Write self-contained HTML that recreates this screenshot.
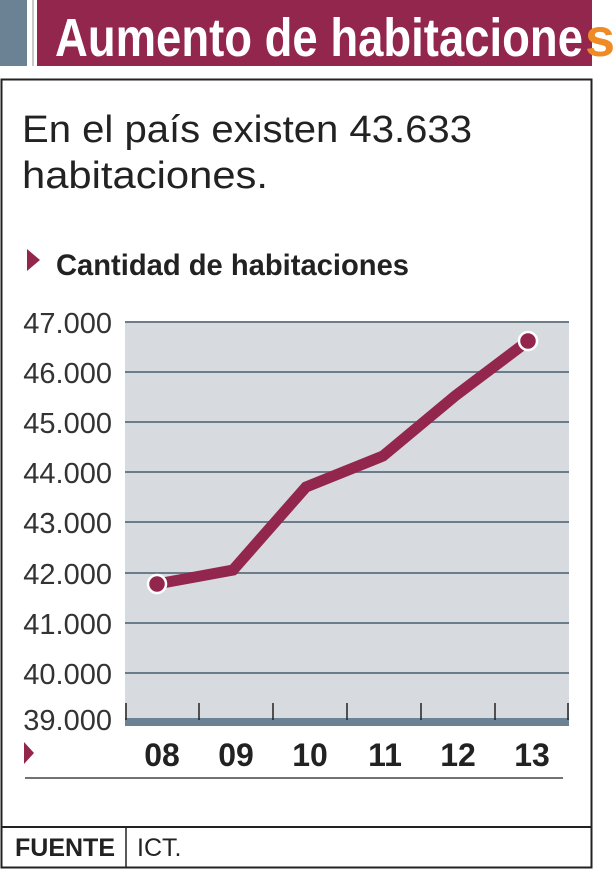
<!DOCTYPE html>
<html><head><meta charset="utf-8"><style>
html,body{margin:0;padding:0;background:#fff;width:613px;height:871px;overflow:hidden}
svg{display:block}
</style></head><body>
<svg width="613" height="871" viewBox="0 0 613 871" xmlns="http://www.w3.org/2000/svg">
<rect x="0" y="0" width="613" height="871" fill="#fff"/>
<rect x="0" y="0" width="27" height="66" fill="#6b8294"/>
<rect x="32" y="0" width="2" height="66" fill="#c8c8c8"/>
<rect x="37" y="0" width="555" height="66" fill="#93264c"/>
<text x="55" y="56" font-family="Liberation Sans Narrow, Liberation Sans, sans-serif" font-weight="bold" font-size="54" fill="#fff" textLength="528" lengthAdjust="spacingAndGlyphs">Aumento de habitacione</text>
<text x="585" y="56" font-family="Liberation Sans Narrow, Liberation Sans, sans-serif" font-weight="bold" font-size="54" fill="#f08a24">s</text>
<rect x="1.5" y="79.5" width="590" height="788" fill="none" stroke="#222" stroke-width="2"/>
<line x1="1" y1="827" x2="591" y2="827" stroke="#222" stroke-width="2"/>
<line x1="126" y1="827" x2="126" y2="868" stroke="#222" stroke-width="1.5"/>
<text x="22" y="142" font-family="Liberation Sans, sans-serif" font-size="38" fill="#222" textLength="450" lengthAdjust="spacingAndGlyphs">En el país existen 43.633</text>
<text x="22" y="188" font-family="Liberation Sans, sans-serif" font-size="38" fill="#222" textLength="246" lengthAdjust="spacingAndGlyphs">habitaciones.</text>
<polygon points="27,249 40,260 27,271" fill="#93264c"/>
<text x="56" y="275" font-family="Liberation Sans Narrow, Liberation Sans, sans-serif" font-weight="bold" font-size="30" fill="#222" textLength="353" lengthAdjust="spacingAndGlyphs">Cantidad de habitaciones</text>
<rect x="125" y="322" width="444" height="398" fill="#d7dadf"/>
<g stroke="#6b7c8a" stroke-width="2">
<line x1="125" y1="322" x2="569" y2="322"/>
<line x1="125" y1="372" x2="569" y2="372"/>
<line x1="125" y1="422" x2="569" y2="422"/>
<line x1="125" y1="472" x2="569" y2="472"/>
<line x1="125" y1="522" x2="569" y2="522"/>
<line x1="125" y1="573" x2="569" y2="573"/>
<line x1="125" y1="623" x2="569" y2="623"/>
<line x1="125" y1="673" x2="569" y2="673"/>
</g>
<rect x="125" y="718" width="444" height="8" fill="#6b8294"/>
<g stroke="#222" stroke-width="1.5">
<line x1="126" y1="703" x2="126" y2="720"/><line x1="199" y1="703" x2="199" y2="720"/><line x1="273" y1="703" x2="273" y2="720"/><line x1="347" y1="703" x2="347" y2="720"/><line x1="421" y1="703" x2="421" y2="720"/><line x1="495" y1="703" x2="495" y2="720"/><line x1="568" y1="703" x2="568" y2="720"/>
</g>
<g font-family="Liberation Sans, sans-serif" font-size="29" fill="#333" text-anchor="end">
<text x="112" y="333">47.000</text><text x="112" y="383">46.000</text><text x="112" y="433">45.000</text><text x="112" y="483">44.000</text><text x="112" y="533">43.000</text><text x="112" y="584">42.000</text><text x="112" y="634">41.000</text><text x="112" y="684">40.000</text><text x="112" y="730">39.000</text>
</g>
<polyline points="157,584 233,570 306,487 383,456 455,396 528,341" fill="none" stroke="#93264c" stroke-width="11" stroke-linejoin="miter"/>
<circle cx="157" cy="584" r="9" fill="#93264c" stroke="#fff" stroke-width="2.5"/>
<circle cx="528" cy="341" r="9" fill="#93264c" stroke="#fff" stroke-width="2.5"/>
<polygon points="24,742 34,753 24,764" fill="#93264c"/>
<g font-family="Liberation Sans Narrow, Liberation Sans, sans-serif" font-weight="bold" font-size="32" fill="#222" text-anchor="middle">
<text x="162" y="766">08</text><text x="236" y="766">09</text><text x="310" y="766">10</text><text x="385" y="766">11</text><text x="458" y="766">12</text><text x="532" y="766">13</text>
</g>
<line x1="25" y1="778" x2="563" y2="778" stroke="#444" stroke-width="1.5"/>
<text x="15" y="856" font-family="Liberation Sans Narrow, Liberation Sans, sans-serif" font-weight="bold" font-size="25" fill="#222">FUENTE</text>
<text x="137" y="856" font-family="Liberation Sans Narrow, Liberation Sans, sans-serif" font-size="25" fill="#222">ICT.</text>
</svg>
</body></html>
